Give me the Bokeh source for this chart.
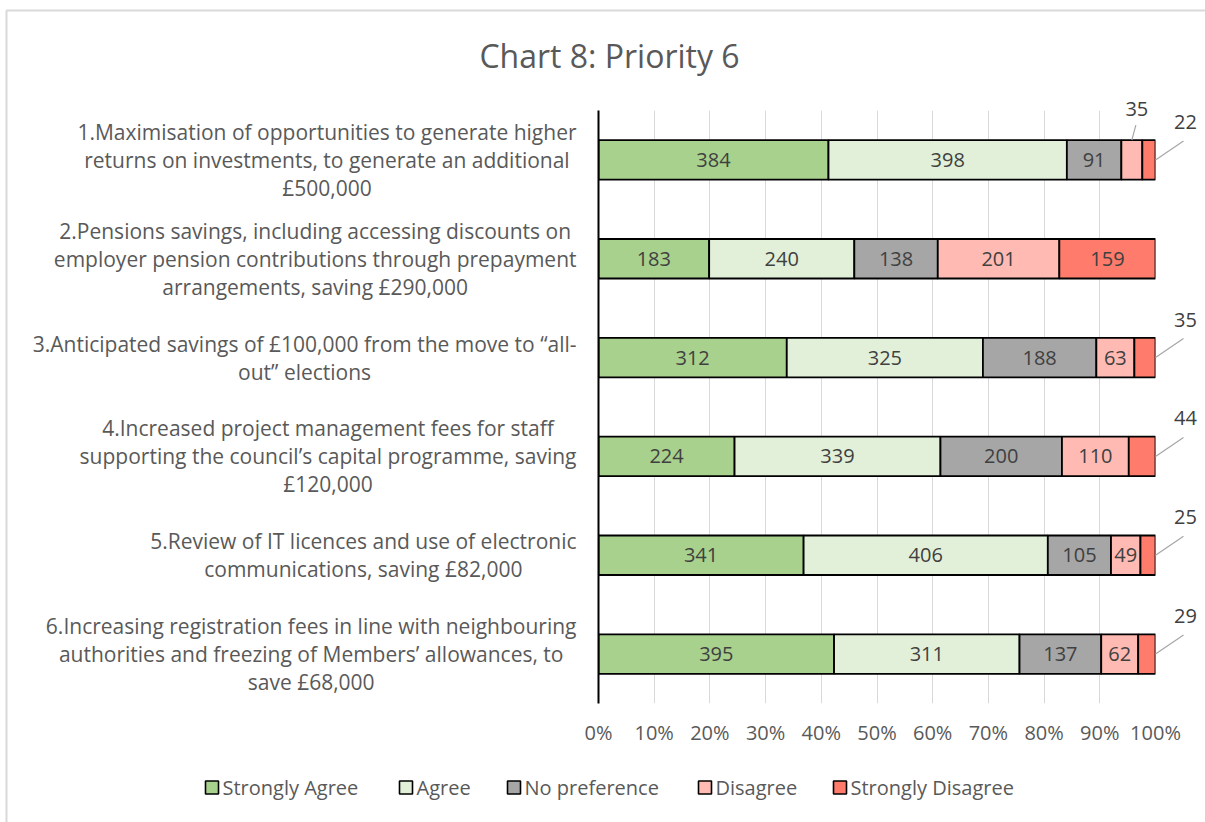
import numpy as np
from bokeh.plotting import figure
from bokeh.models import ColumnDataSource, Range1d, FixedTicker, NumeralTickFormatter
from bokeh.core.properties import value
from bokeh.embed import file_html
from bokeh.resources import INLINE

# ---------------- data ----------------
chart_title = "Chart 8: Priority 6"
categories = [
    "1.Maximisation of opportunities to generate higher\nreturns on investments, to generate an additional\n£500,000",
    "2.Pensions savings, including accessing discounts on\nemployer pension contributions through prepayment\narrangements, saving £290,000",
    "3.Anticipated savings of £100,000 from the move to \u201call-\nout\u201d elections",
    "4.Increased project management fees for staff\nsupporting the council\u2019s capital programme, saving\n£120,000",
    "5.Review of IT licences and use of electronic\ncommunications, saving £82,000",
    "6.Increasing registration fees in line with neighbouring\nauthorities and freezing of Members\u2019 allowances, to\nsave £68,000",
]
series_names = ["Strongly Agree", "Agree", "No preference", "Disagree", "Strongly Disagree"]
strongly_agree = [384, 183, 312, 224, 341, 395]
agree = [398, 240, 325, 339, 406, 311]
no_preference = [91, 138, 188, 200, 105, 137]
disagree = [35, 201, 63, 110, 49, 62]
strongly_disagree = [22, 159, 35, 44, 25, 29]
x_ticks = [0.0, 0.1, 0.2, 0.3, 0.4, 0.5, 0.6, 0.7, 0.8, 0.9, 1.0]

# ---------------- style / layout ----------------
colors = ["#A9D18E", "#E2F0D9", "#A6A6A6", "#FFBBB3", "#FF7B6B"]
FONT = "Open Sans"
TXT = "#595959"
LBL = "#404040"
W, H = 1205, 822
ML, MR, MT, MB = 598, 50, 110, 119
FW, FH = W - ML - MR, H - MT - MB
legend_left_px = [205, 399, 507, 698, 833]   # legend square positions (canvas px)
legend_y_px = 787
legend_sq_px = 13

n = len(categories)
ys = np.arange(1, n + 1)
vals = np.array([strongly_agree, agree, no_preference, disagree, strongly_disagree], dtype=float)
totals = vals.sum(axis=0)
frac = vals / totals
right = np.cumsum(frac, axis=0)
left = right - frac

p = figure(width=W, height=H, output_backend="svg", toolbar_location=None,
           x_range=Range1d(0, 1), y_range=Range1d(n + 0.5, 0.5),
           min_border_left=ML, min_border_right=MR, min_border_top=MT, min_border_bottom=MB)
p.title = None
p.outline_line_color = None
p.background_fill_color = "white"
p.border_fill_color = "white"

px_x = 1.0 / FW          # data units per pixel, x
px_y = n / FH            # data units per pixel, y (downwards = +)

def sx(px):  # canvas px -> data x
    return (px - ML) * px_x

def sy(py):  # canvas px -> data y
    return 0.5 + (py - MT) * px_y

# grid
p.xgrid.ticker = FixedTicker(ticks=x_ticks)
p.xgrid.grid_line_color = "#D9D9D9"
p.xgrid.grid_line_width = 1
p.ygrid.grid_line_color = None

# axes
p.xaxis.ticker = FixedTicker(ticks=x_ticks)
p.xaxis.formatter = NumeralTickFormatter(format="0%")
p.xaxis.axis_line_color = None
p.xaxis.major_tick_in = 0
p.xaxis.major_tick_out = 0
p.xaxis.minor_tick_line_color = None
p.xaxis.major_label_standoff = 15
p.xaxis.major_label_text_font = FONT
p.xaxis.major_label_text_font_size = "20px"
p.xaxis.major_label_text_color = TXT

p.yaxis.ticker = FixedTicker(ticks=[])
p.yaxis.axis_line_color = "black"
p.yaxis.axis_line_width = 2
p.yaxis.major_tick_in = 0
p.yaxis.major_tick_out = 0
p.yaxis.minor_tick_line_color = None
p.yaxis.major_label_text_font_size = "0px"

# chart border (light frame around the chart area)
border = p.line(x=[sx(1300), sx(6), sx(6)], y=[sy(10), sy(10), sy(900)],
                line_color="#D9D9D9", line_width=2)
border.level = "overlay"

# bars
renderers = []
for i, name in enumerate(series_names):
    src = ColumnDataSource(dict(y=ys, left=left[i], right=right[i]))
    r = p.hbar(y="y", left="left", right="right", height=0.4, source=src,
               fill_color=colors[i], line_color="black", line_width=1.8)
    renderers.append(r)

# data labels
in_x, in_y, in_t = [], [], []
out_x, out_y, out_t = [], [], []
lx0, ly0, lx1, ly1 = [], [], [], []
for i in range(len(series_names)):
    for j in range(n):
        mid = (left[i, j] + right[i, j]) / 2
        if frac[i, j] >= 0.05:
            in_x.append(mid); in_y.append(ys[j]); in_t.append(str(int(vals[i, j])))
        elif i == len(series_names) - 1:
            x0, y0 = right[i, j], ys[j]
            x1, y1 = x0 + 28 * px_x, y0 - 19 * px_y
            lx0.append(x0); ly0.append(y0); lx1.append(x1); ly1.append(y1)
            out_x.append(x1 + 2 * px_x); out_y.append(y1 - 19 * px_y); out_t.append(str(int(vals[i, j])))
        else:
            x0, y0 = mid, ys[j] - 0.2
            x1, y1 = x0 + 4 * px_x, y0 - 15 * px_y
            lx0.append(x0); ly0.append(y0); lx1.append(x1); ly1.append(y1)
            out_x.append(x1 + 1 * px_x); out_y.append(y1 - 16 * px_y); out_t.append(str(int(vals[i, j])))

p.text(x=in_x, y=in_y, text=in_t, text_align="center", text_baseline="middle",
       text_font=value(FONT), text_font_size="20px", text_color=LBL)
seg = p.segment(x0=lx0, y0=ly0, x1=lx1, y1=ly1, line_color="#A6A6A6", line_width=1.2)
seg.level = "overlay"
ot = p.text(x=out_x, y=out_y, text=out_t, text_align="center", text_baseline="middle",
            text_font=value(FONT), text_font_size="20px", text_color=LBL)
ot.level = "overlay"

# category labels (left of the axis)
cat = p.text(x=[0] * n, y=ys, text=categories, x_offset=-22, anchor="center_right",
             text_align="center", text_baseline="middle", text_line_height=1.0,
             text_font=value(FONT), text_font_size="21px", text_color=TXT)
cat.level = "overlay"

# title
tt = p.text(x=[sx(609)], y=[sy(55)], text=[chart_title], text_align="center",
            text_baseline="middle", text_font=value(FONT), text_font_size="32px",
            text_color=TXT)
tt.level = "overlay"

# legend (drawn as glyphs so that it can sit below the plot area, centred on the chart)
half = legend_sq_px / 2
for name, col, lx in zip(series_names, colors, legend_left_px):
    x0, x1 = sx(lx), sx(lx + legend_sq_px)
    y0, y1 = sy(legend_y_px - half), sy(legend_y_px + half)
    sq = p.patch(x=[x0, x1, x1, x0], y=[y0, y0, y1, y1], fill_color=col,
                 line_color="black", line_width=1.6)
    sq.level = "overlay"
lg_tx = p.text(x=[sx(v + legend_sq_px + 4) for v in legend_left_px],
               y=[sy(legend_y_px)] * len(series_names),
               text=series_names, text_align="left", text_baseline="middle",
               text_font=value(FONT), text_font_size="20px", text_color=TXT)
lg_tx.level = "overlay"

open("out.html", "w").write(file_html(p, INLINE))
